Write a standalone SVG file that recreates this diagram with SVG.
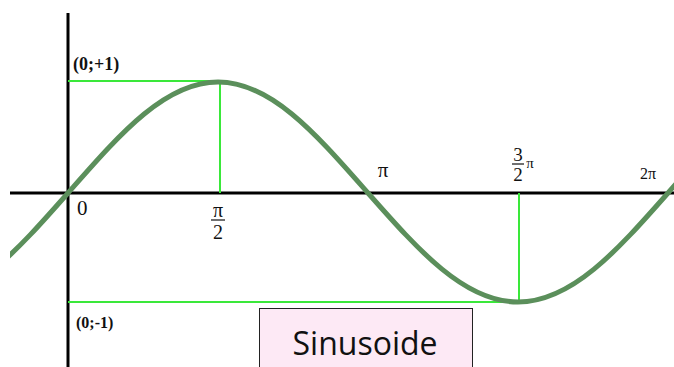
<svg xmlns="http://www.w3.org/2000/svg" width="674" height="367" viewBox="0 0 674 367">
<style>
.axis{stroke:#000;stroke-width:3;fill:none}
.guide{stroke:#3ae83a;stroke-width:2;fill:none}
.curve{stroke:#5b8f5b;stroke-width:5;fill:none}
.lbl{font-family:"Liberation Serif",serif;fill:#111}
.bar{stroke:#111;stroke-width:1.2}
</style>
<defs><clipPath id="c"><rect x="10" y="0" width="664" height="367"/></clipPath></defs>
<rect width="674" height="367" fill="#fff"/>
<g id="axes">
<line class="axis" x1="68" y1="13" x2="68" y2="367"/>
<line class="axis" x1="10" y1="193" x2="674" y2="193"/>
</g>
<g id="guides">
<polyline class="guide" points="68,81 220,81 220,193"/>
<polyline class="guide" points="68,302 519,302 519,193"/>
</g>
<g id="curve" clip-path="url(#c)">
<path class="curve" d="M-82,302 C-27.97,302 17.86,249.76 68,193 C118.14,136.24 163.970,82 218,82 C272.03,82 317.86,136.24 368,193 C418.14,249.76 463.97,302 518,302 C572.03,302 617.86,249.76 668,193 L680,179"/>
</g>
<g id="labels">
<text class="lbl" x="73" y="70" font-size="18" font-weight="bold">(0;+1)</text>
<text class="lbl" x="76" y="328" font-size="16" font-weight="bold">(0;-1)</text>
<text class="lbl" x="77" y="215" font-size="21">0</text>
<text class="lbl" x="218" y="217" font-size="20" text-anchor="middle">π</text>
<line class="bar" x1="211" y1="220" x2="225" y2="220"/>
<text class="lbl" x="218" y="239" font-size="20" text-anchor="middle">2</text>
<text class="lbl" x="383" y="177" font-size="21" text-anchor="middle">π</text>
<text class="lbl" x="518" y="161" font-size="19" text-anchor="middle">3</text>
<line class="bar" x1="512" y1="164" x2="524" y2="164"/>
<text class="lbl" x="518" y="181" font-size="19" text-anchor="middle">2</text>
<text class="lbl" x="530" y="168" font-size="15" text-anchor="middle">π</text>
<text class="lbl" x="648" y="179" font-size="16" text-anchor="middle">2π</text>
</g>
<g id="title">
<rect x="259.5" y="308.5" width="213" height="62" fill="#fde9f5" stroke="#222" stroke-width="1"/>
<text x="365" y="355" font-family="'Open Sans','Liberation Sans',sans-serif" font-size="32" text-anchor="middle" fill="#111">Sinusoide</text>
</g>
</svg>
